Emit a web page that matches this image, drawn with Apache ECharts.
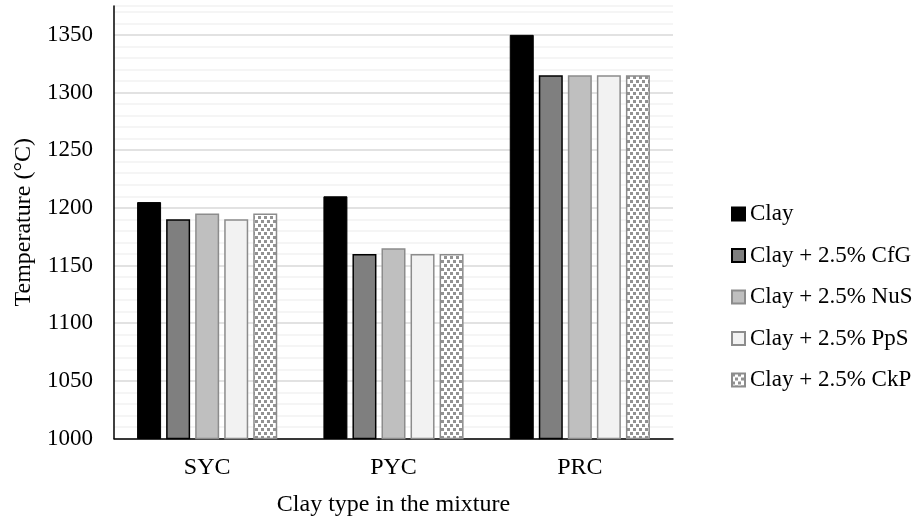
<!DOCTYPE html>
<html>
<head>
<meta charset="utf-8">
<script src="https://cdn.jsdelivr.net/npm/echarts@6/dist/echarts.min.js"></script>
<style>html,body{margin:0;padding:0;background:#fff}#c{width:913px;height:519px}</style>
</head>
<body>
<div id="c"></div>
<script>
const categories = ['SYC', 'PYC', 'PRC'];
const seriesNames = ['Clay', 'Clay + 2.5% CfG', 'Clay + 2.5% NuS', 'Clay + 2.5% PpS', 'Clay + 2.5% CkP'];
const clay = [1205, 1210, 1350];
const clayCfG = [1190, 1160, 1315];
const clayNuS = [1195, 1165, 1315];
const clayPpS = [1190, 1160, 1315];
const clayCkP = [1195, 1160, 1315];
const yMin = 1000, yMax = 1375;

const FONT = "'Liberation Serif', 'Times New Roman', serif";

// dotted pattern for CkP
const pc = document.createElement('canvas');
pc.width = 6; pc.height = 8;
const g = pc.getContext('2d');
g.fillStyle = '#ffffff'; g.fillRect(0, 0, 6, 8);
g.fillStyle = '#929292';
g.fillRect(0, 0, 3, 3);
g.fillRect(3, 4, 3, 3);

const styles = [
  {color: '#000000', borderColor: '#000000', borderWidth: 1},
  {color: '#7f7f7f', borderColor: '#000000', borderWidth: 1.5},
  {color: '#bfbfbf', borderColor: '#8c8c8c', borderWidth: 1.5},
  {color: '#f2f2f2', borderColor: '#8c8c8c', borderWidth: 1.5},
  {color: {image: pc, repeat: 'repeat'}, borderColor: '#8c8c8c', borderWidth: 1.5}
];
const dataArr = [clay, clayCfG, clayNuS, clayPpS, clayCkP];

const chart = echarts.init(document.getElementById('c'), null, {renderer: 'canvas'});
chart.setOption({
  animation: false,
  backgroundColor: '#ffffff',
  textStyle: {fontFamily: FONT},
  grid: {left: 114, right: 240, top: 6, bottom: 80.5, containLabel: false, outerBoundsMode: 'none'},
  legend: {
    orient: 'vertical',
    left: 726,
    top: 197,
    icon: 'rect',
    itemWidth: 13,
    itemHeight: 13,
    itemGap: 17.5,
    textStyle: {fontFamily: FONT, fontSize: 23, color: '#000', lineHeight: 24},
    data: seriesNames
  },
  xAxis: {
    type: 'category',
    data: categories,
    axisLine: {lineStyle: {color: '#000', width: 1.5}},
    axisTick: {show: false},
    axisLabel: {fontFamily: FONT, fontSize: 24, color: '#000', margin: 17},
    name: 'Clay type in the mixture',
    nameLocation: 'middle',
    nameGap: 54,
    nameTextStyle: {fontFamily: FONT, fontSize: 24, color: '#000'}
  },
  yAxis: {
    type: 'value',
    min: yMin,
    max: yMax,
    interval: 10,
    axisLine: {show: true, lineStyle: {color: '#000', width: 1.5}},
    axisTick: {show: false},
    axisLabel: {
      fontFamily: FONT, fontSize: 23, color: '#000', margin: 21,
      formatter: function (v) { return v % 50 === 0 ? String(v) : ''; }
    },
    splitLine: {lineStyle: {color: ['#d9d9d9', '#f2f2f2', '#f2f2f2', '#f2f2f2', '#f2f2f2'], width: 1.5}},
    name: 'Temperature (°C)',
    nameLocation: 'middle',
    nameGap: 74,
    nameTextStyle: {fontFamily: FONT, fontSize: 24, color: '#000'}
  },
  series: seriesNames.map((n, i) => ({
    name: n,
    type: 'bar',
    data: dataArr[i],
    barWidth: 24,
    barGap: '21%',
    itemStyle: styles[i]
  }))
});
</script>
</body>
</html>
